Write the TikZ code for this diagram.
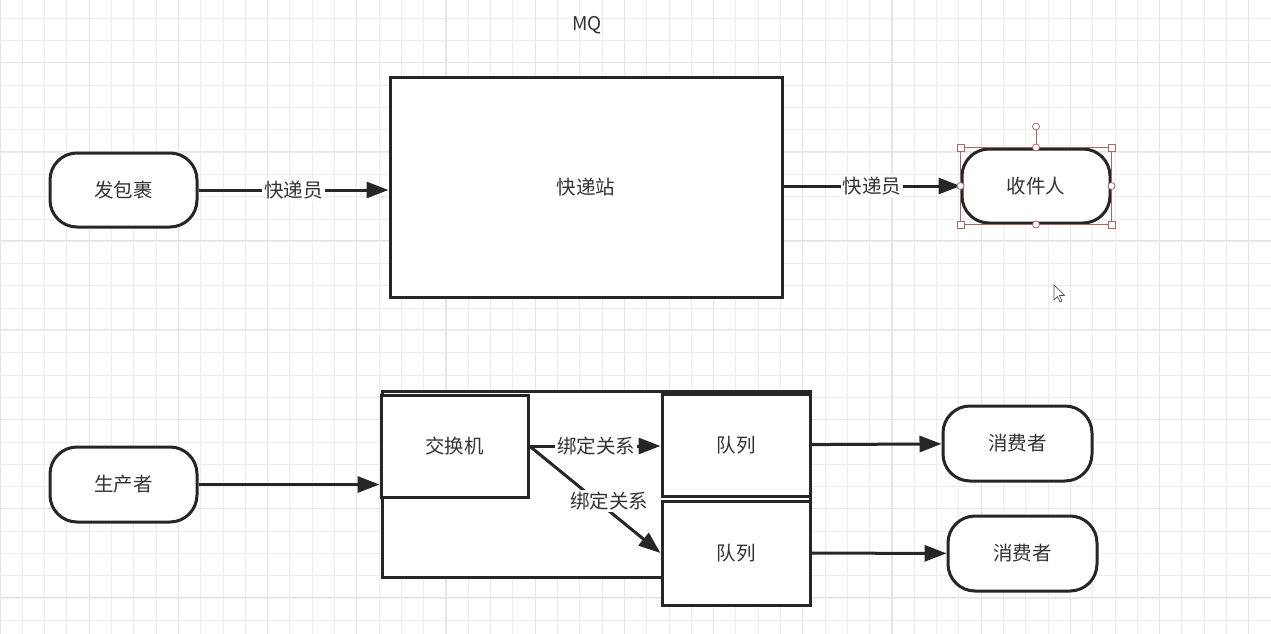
\documentclass[tikz,border=0pt]{standalone}
\usepackage{fontspec}
\setmainfont{Noto Sans CJK SC}
\usetikzlibrary{arrows.meta,calc,positioning}
\tikzset{
  grid minor/.style={draw=black!7,line width=1pt},
  grid major/.style={draw=black!10,line width=1.1pt},
  flow box/.style={rectangle,draw=black!85,fill=white,line width=3pt,
    inner sep=0pt,text=black!80,font=\fontsize{19.5}{21}\selectfont},
  flow term/.style={flow box,rounded corners=27pt,minimum width=147pt,
    minimum height=74pt},
  flow edge/.style={-{Triangle[length=22pt,width=16pt]},draw=black!85,
    line width=3pt},
  flow label/.style={fill=white,inner sep=2pt,text=black!80,
    font=\fontsize{19.5}{21}\selectfont},
  sel line/.style={draw=red!45!black!60,line width=0.8pt},
  sel handle/.style={sel line,fill=white,minimum size=7pt,inner sep=0pt}
}
\begin{document}
\begin{tikzpicture}[x=1pt,y=-1pt]
  \fill[white] (0,0) rectangle (1271,634);
  \useasboundingbox (0,0) rectangle (1271,634);
  % grid
  \foreach \i in {0,...,57}
    \draw[grid minor] ({\i*22.3},0) -- ({\i*22.3},634);
  \foreach \i in {0,...,28}
    \draw[grid minor] (0,{\i*22.3-4}) -- (1271,{\i*22.3-4});
  \foreach \i in {0,...,14}
    \draw[grid major] ({\i*89.2},0) -- ({\i*89.2},634);
  \foreach \i in {0,...,7}
    \draw[grid major] (0,{\i*89.2-26.9}) -- (1271,{\i*89.2-26.9});

  \node[text=black!80,font=\fontsize{19}{21}\selectfont] (title) at (587,25) {MQ};

  % parcel delivery
  \node[flow term] (parcel) at (123.5,190) {发包裹};
  \node[flow box,minimum width=392pt,minimum height=220pt] (station) at (586,187) {快递站};
  \node[flow term,minimum width=148pt] (receiver) at (1036,186) {收件人};
  \draw[flow edge] (parcel) -- (parcel -| station.west)
    node[flow label,pos=0.5] {快递员};
  \draw[flow edge] (station.east |- receiver) -- (receiver)
    node[flow label,pos=0.5] {快递员};

  % selection of the receiver
  \draw[sel line] (receiver.north west) rectangle (receiver.south east);
  \draw[sel line] (receiver.north) -- ++(0,-21) coordinate (rotate);
  \node[sel handle,circle] at (rotate) {};
  \foreach \a in {north west,north east,south west,south east}
    \node[sel handle] at (receiver.\a) {};
  \foreach \a in {north,south,east,west}
    \node[sel handle,circle] at (receiver.\a) {};

  % cursor
  \draw[fill=white,draw=black!70,line width=0.7pt,line join=round]
    (1054,285) -- ++(0,15) -- ++(3.5,-3.5) -- ++(2.5,5.5) -- ++(2,-1)
    -- ++(-2.5,-5.5) -- ++(5,0) -- cycle;

  % exchange and queues
  \node[flow box,minimum width=428pt,minimum height=186pt] (broker) at (596,484) {};
  \draw[black!85,line width=3pt] ($(broker.north west)+(0,1.5)$) -- ($(broker.north east)+(0,1.5)$);
  \node[flow box,minimum width=147pt,minimum height=102pt] (exchange) at (454.5,446) {交换机};
  \node[flow box,minimum width=148pt,minimum height=102pt] (queueone) at (736,445) {队列};
  \node[flow box,minimum width=148pt,minimum height=104pt] (queuetwo) at (736,553) {队列};
  \node[flow term,minimum height=75pt] (producer) at (123.5,484.5) {生产者};
  \node[flow term,minimum width=149pt,minimum height=75pt] (consumerone) at (1017.5,443.5) {消费者};
  \node[flow term,minimum width=149pt,minimum height=75pt] (consumertwo) at (1022.5,553.5) {消费者};

  \draw[flow edge] (producer) -- (producer -| exchange.west);
  \draw[flow edge] (exchange.east) -- (exchange.east -| queueone.west)
    node[flow label,pos=0.51] {绑定关系};
  \draw[flow edge] (exchange.east) -- (queuetwo.west)
    node[flow label,pos=0.61,yshift=10pt] {绑定关系};
  \draw[flow edge] (queueone) -- (consumerone);
  \draw[flow edge] (queuetwo) -- (consumertwo);
\end{tikzpicture}
\end{document}
